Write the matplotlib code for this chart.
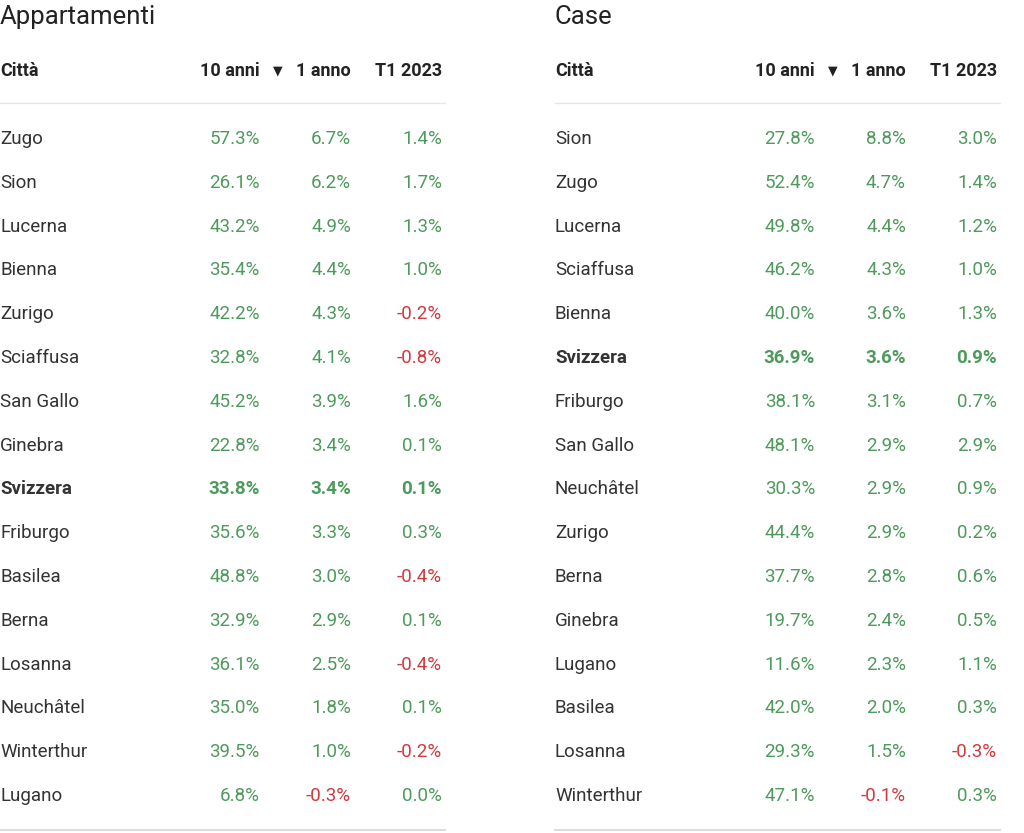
import matplotlib.pyplot as plt
from matplotlib.lines import Line2D

# Appartamenti
apt_city = ["Zugo", "Sion", "Lucerna", "Bienna", "Zurigo", "Sciaffusa", "San Gallo", "Ginebra",
            "Svizzera", "Friburgo", "Basilea", "Berna", "Losanna", "Neuchâtel", "Winterthur", "Lugano"]
apt_10y = [57.3, 26.1, 43.2, 35.4, 42.2, 32.8, 45.2, 22.8, 33.8, 35.6, 48.8, 32.9, 36.1, 35.0, 39.5, 6.8]
apt_1y = [6.7, 6.2, 4.9, 4.4, 4.3, 4.1, 3.9, 3.4, 3.4, 3.3, 3.0, 2.9, 2.5, 1.8, 1.0, -0.3]
apt_t1 = [1.4, 1.7, 1.3, 1.0, -0.2, -0.8, 1.6, 0.1, 0.1, 0.3, -0.4, 0.1, -0.4, 0.1, -0.2, 0.0]

# Case
case_city = ["Sion", "Zugo", "Lucerna", "Sciaffusa", "Bienna", "Svizzera", "Friburgo", "San Gallo",
             "Neuchâtel", "Zurigo", "Berna", "Ginebra", "Lugano", "Basilea", "Losanna", "Winterthur"]
case_10y = [27.8, 52.4, 49.8, 46.2, 40.0, 36.9, 38.1, 48.1, 30.3, 44.4, 37.7, 19.7, 11.6, 42.0, 29.3, 47.1]
case_1y = [8.8, 4.7, 4.4, 4.3, 3.6, 3.6, 3.1, 2.9, 2.9, 2.9, 2.8, 2.4, 2.3, 2.0, 1.5, -0.1]
case_t1 = [3.0, 1.4, 1.2, 1.0, 1.3, 0.9, 0.7, 2.9, 0.9, 0.2, 0.6, 0.5, 1.1, 0.3, -0.3, 0.3]

headers = ["Città", "10 anni", "1 anno", "T1 2023"]

W, H = 1024, 833
GREEN = "#4e9a5c"
RED = "#d2393f"
DARK = "#333333"
plt.rcParams["font.family"] = "Roboto"

fig = plt.figure(figsize=(W / 100, H / 100), dpi=100)


def px(x, y):
    return x / W, 1 - y / H


def table(x0, title, city, c10, c1, ct):
    fig.text(*px(x0, 17), title, fontsize=18.5, color="#222222", va="center", ha="left")
    cols = [x0 + 260, x0 + 351, x0 + 442]
    fig.text(*px(x0, 71), headers[0], fontsize=13, weight="bold", color="#222222", va="center")
    for cx, h in zip(cols, headers[1:]):
        fig.text(*px(cx, 71), h, fontsize=13, weight="bold", color="#222222", va="center", ha="right")
    # sort arrow next to "1 anno"
    fig.text(*px(x0 + 273, 71), "▼", fontsize=9, family="DejaVu Sans", color="#222222",
             va="center", ha="left")
    fig.add_artist(Line2D([x0 / W, (x0 + 445) / W], [1 - 103 / H] * 2, color="#e6e6e6", lw=1))
    fig.add_artist(Line2D([x0 / W, (x0 + 445) / W], [1 - 830 / H] * 2, color="#dddddd", lw=1.5))
    for i, c in enumerate(city):
        y = 139 + i * 43.8
        bold = "bold" if c == "Svizzera" else "normal"
        fig.text(*px(x0, y), c, fontsize=13.5, color=DARK, weight=bold, va="center")
        for cx, v in zip(cols, (c10[i], c1[i], ct[i])):
            fig.text(*px(cx, y), f"{v:.1f}%", fontsize=13.5, weight=bold,
                     color=RED if v < 0 else GREEN, va="center", ha="right")


table(0, "Appartamenti", apt_city, apt_10y, apt_1y, apt_t1)
table(555, "Case", case_city, case_10y, case_1y, case_t1)

fig.savefig("out.png", dpi=100, facecolor="white")
